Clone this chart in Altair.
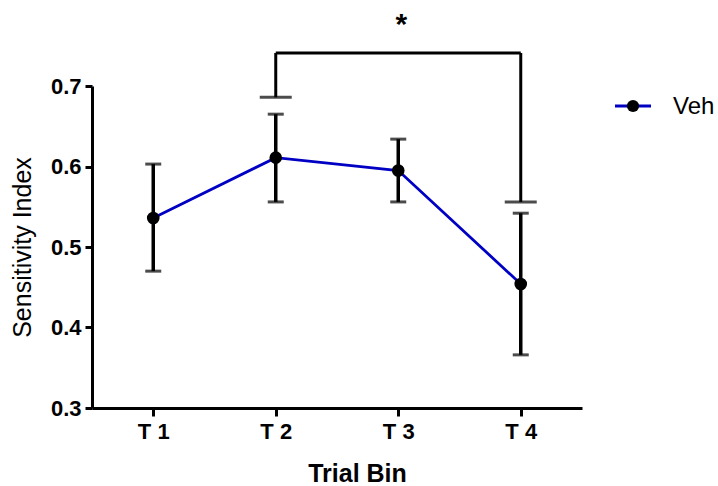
import altair as alt
import pandas as pd

# Sensitivity index per trial bin (mean with error bars)
bins = ["T 1", "T 2", "T 3", "T 4"]
means = [0.536, 0.611, 0.595, 0.454]
upper = [0.603, 0.665, 0.634, 0.542]
lower = [0.470, 0.556, 0.556, 0.366]
series_name = "Veh"

# Significance bracket between T 2 and T 4
bracket_from = "T 2"
bracket_to = "T 4"
bracket_top = 0.741
bracket_feet = [0.686, 0.556]
star_level = 0.765
star_text = "*"

FONT = "Liberation Sans"
BLUE = "#0000c4"

df = pd.DataFrame({"bin": bins, "mean": means, "upper": upper, "lower": lower})
legs = pd.DataFrame({
    "bin": [bracket_from, bracket_to],
    "foot": bracket_feet,
    "top": [bracket_top, bracket_top],
})
span = pd.DataFrame({"bin": [bracket_from], "end": [bracket_to], "top": [bracket_top]})
star = pd.DataFrame({"bin": ["T 3"], "y": [star_level], "t": [star_text]})
legend_df = pd.DataFrame({"name": [series_name]})

x_enc = alt.X(
    "bin:N",
    sort=bins,
    scale=alt.Scale(type="point", padding=0.5, domain=bins),
    axis=alt.Axis(
        title="Trial Bin",
        labelAngle=0,
        labelFont=FONT,
        labelFontSize=22,
        labelFontWeight="bold",
        labelPadding=5,
        tickSize=8,
        titleFont=FONT,
        titleFontSize=25,
        titleFontWeight="bold",
        titleX=265,
        titleY=73,
        titleBaseline="alphabetic",
    ),
)
y_scale = alt.Scale(domain=[0.3, 0.7], nice=False, zero=False)
y_enc = alt.Y(
    "mean:Q",
    scale=y_scale,
    axis=alt.Axis(
        title="Sensitivity Index",
        values=[0.3, 0.4, 0.5, 0.6, 0.7],
        format=".1f",
        labelFont=FONT,
        labelFontSize=22,
        labelFontWeight="bold",
        labelPadding=4,
        tickSize=7,
        titleFont=FONT,
        titleFontSize=25,
        titleFontWeight="normal",
        titleX=-62,
        titleY=161,
        titleAlign="center",
        titleBaseline="alphabetic",
    ),
)

base = alt.Chart(df)

line = base.mark_line(color=BLUE, strokeWidth=2.8).encode(x=x_enc, y=y_enc)

err = base.mark_rule(color="black", strokeWidth=3.5).encode(
    x=alt.X("bin:N", sort=bins),
    y=alt.Y("lower:Q", scale=y_scale),
    y2="upper:Q",
)
cap_hi = base.mark_tick(color="black", orient="horizontal", size=16, thickness=3).encode(
    x=alt.X("bin:N", sort=bins), y=alt.Y("upper:Q", scale=y_scale)
)
cap_lo = base.mark_tick(color="black", orient="horizontal", size=16, thickness=3).encode(
    x=alt.X("bin:N", sort=bins), y=alt.Y("lower:Q", scale=y_scale)
)
pts = base.mark_point(filled=True, color="black", size=160, opacity=1).encode(
    x=alt.X("bin:N", sort=bins), y=alt.Y("mean:Q", scale=y_scale)
)

# bracket
leg_rules = alt.Chart(legs).mark_rule(color="black", strokeWidth=3).encode(
    x=alt.X("bin:N", sort=bins), y=alt.Y("foot:Q", scale=y_scale), y2="top:Q"
)
leg_caps = alt.Chart(legs).mark_tick(color="black", orient="horizontal", size=32, thickness=3).encode(
    x=alt.X("bin:N", sort=bins), y=alt.Y("foot:Q", scale=y_scale)
)
span_rule = alt.Chart(span).mark_rule(color="black", strokeWidth=3).encode(
    x=alt.X("bin:N", sort=bins), x2="end:N", y=alt.Y("top:Q", scale=y_scale)
)
star_mark = alt.Chart(star).mark_text(
    font=FONT, fontSize=30, fontWeight="bold", color="black", baseline="alphabetic", dx=3
).encode(x=alt.X("bin:N", sort=bins), y=alt.Y("y:Q", scale=y_scale), text="t:N")

# legend entry
leg_line = alt.Chart(legend_df).mark_rule(color=BLUE, strokeWidth=3).encode(
    x=alt.value(523), x2=alt.value(559), y=alt.value(20)
)
leg_dot = alt.Chart(legend_df).mark_point(filled=True, color="black", size=150, opacity=1).encode(
    x=alt.value(541), y=alt.value(20)
)
leg_text = alt.Chart(legend_df).mark_text(
    font=FONT, fontSize=24, color="black", align="left", baseline="alphabetic"
).encode(x=alt.value(581), y=alt.value(28), text="name:N")

chart = alt.layer(
    line, err, cap_hi, cap_lo, pts,
    leg_rules, leg_caps, span_rule, star_mark,
    leg_line, leg_dot, leg_text,
).properties(
    width=490,
    height=322,
    autosize=alt.AutoSizeParams(type="none"),
    padding={"left": 92, "top": 86, "right": 136, "bottom": 78},
    background="white",
).configure_axis(
    grid=False,
    domainColor="black",
    domainWidth=3,
    tickColor="black",
    tickWidth=3,
    labelColor="black",
    titleColor="black",
).configure_view(stroke=None)

chart.save("out.html", embed_options={"renderer": "svg", "actions": False})
